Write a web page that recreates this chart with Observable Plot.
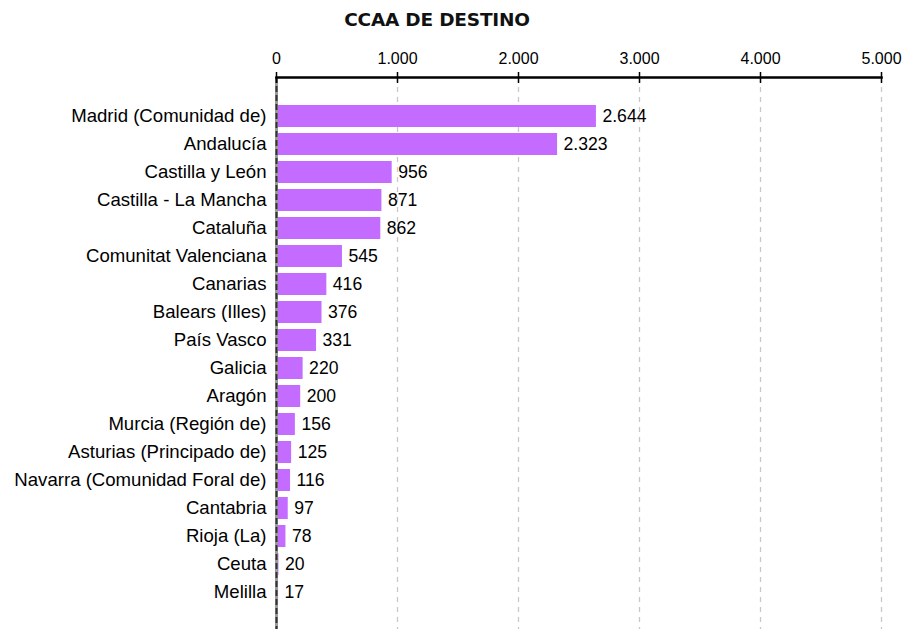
<!DOCTYPE html>
<html><head><meta charset="utf-8">
<script src="https://cdn.jsdelivr.net/npm/d3@7"></script>
<script src="https://cdn.jsdelivr.net/npm/@observablehq/plot@0.6"></script>
<style>
body{margin:0;background:#fff;}
#wrap{position:relative;width:907px;height:629px;}
#title{position:absolute;left:0;top:9px;width:874px;text-align:center;font-family:"DejaVu Sans",sans-serif;font-weight:bold;font-size:18.5px;color:#111;letter-spacing:-0.2px;}
</style></head>
<body><div id="wrap"><div id="title">CCAA DE DESTINO</div><div id="chart"></div></div>
<script>
const regions = ["Madrid (Comunidad de)","Andalucía","Castilla y León","Castilla - La Mancha","Cataluña","Comunitat Valenciana","Canarias","Balears (Illes)","País Vasco","Galicia","Aragón","Murcia (Región de)","Asturias (Principado de)","Navarra (Comunidad Foral de)","Cantabria","Rioja (La)","Ceuta","Melilla"];
const values = [2644,2323,956,871,862,545,416,376,331,220,200,156,125,116,97,78,20,17];
const xTicks = [0,1000,2000,3000,4000,5000];

const data = regions.map((r,i)=>({region:r, value:values[i]}));
const loc = d3.formatLocale({decimal:",", thousands:".", grouping:[3], currency:["","€"]});
const fmt = loc.format(",d");

const chart = Plot.plot({
  width: 907, height: 629,
  marginTop: 77, marginBottom: 0, marginLeft: 276, marginRight: 26,
  style: {fontFamily: "Liberation Sans, Arial, sans-serif", fontSize: "16px", color: "#000"},
  x: {domain: [0,5000], ticks: xTicks, tickFormat: fmt, label: null},
  y: {domain: regions, range: [99.2, 609.9], padding: 0.2, label: null},
  marks: [
    Plot.gridX(xTicks.slice(1), {stroke: "#c8c8c8", strokeOpacity: 1, strokeWidth: 1.3, strokeDasharray: "5,5"}),
    Plot.barX(data, {x: "value", y: "region", fill: "#c46cff"}),
    Plot.text(data, {x: "value", y: "region", text: d => fmt(d.value), textAnchor: "start", dx: 6, fill: "#000", fontSize: 17.6}),
    Plot.ruleX([0], {stroke: "#9a9a9a", strokeWidth: 3}),
    Plot.ruleX([0], {stroke: "#333", strokeWidth: 2, strokeDasharray: "6,3"}),
    Plot.gridX(xTicks, {stroke: "#000", strokeOpacity: 1, strokeWidth: 1.5, insetBottom: 629-77-6}),
    Plot.axisX({anchor: "top", ticks: xTicks, tickFormat: fmt, tickSize: 6, tickPadding: 8, strokeWidth: 1.5, fontSize: 16, label: null}),
    Plot.axisY({anchor: "left", tickSize: 0, tickPadding: 10, fontSize: 18.6, label: null}),
    Plot.frame({anchor: "top", stroke: "#000", strokeWidth: 2.5})
  ]
});
document.getElementById("chart").appendChild(chart);
</script></body></html>
